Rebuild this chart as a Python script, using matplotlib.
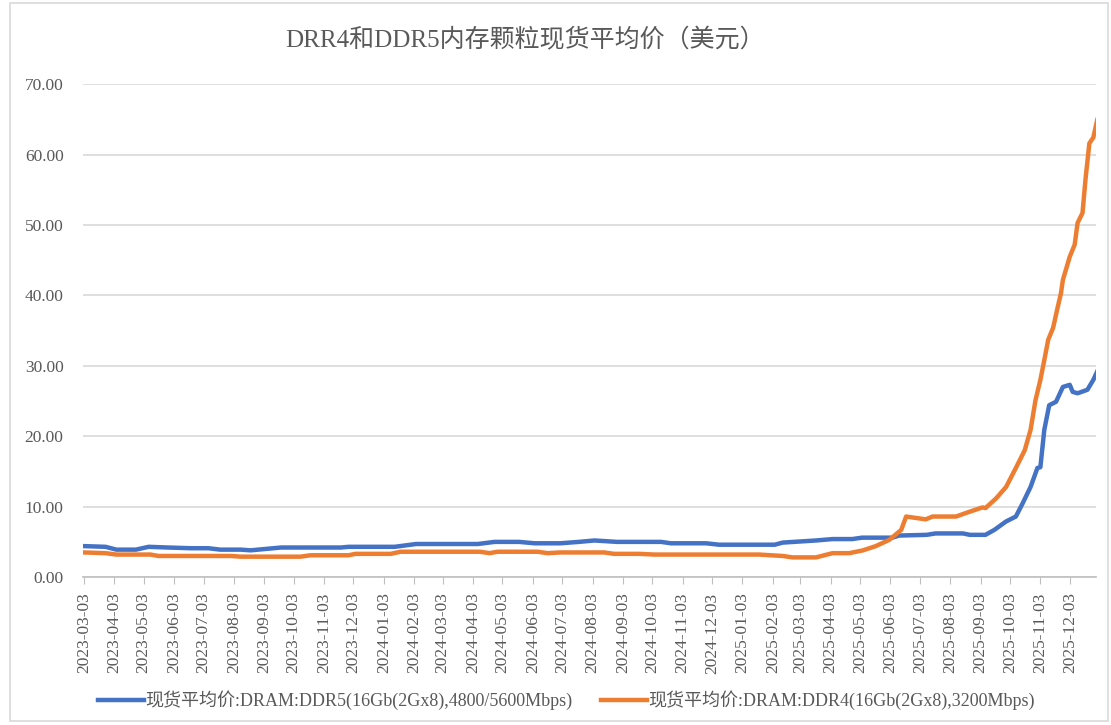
import pandas as pd
import matplotlib.pyplot as plt
import matplotlib.dates as mdates
from matplotlib.patches import Rectangle

plt.rcParams['font.family'] = ['Liberation Serif', 'Noto Sans CJK SC']

title = 'DRR4和DDR5内存颗粒现货平均价（美元）'
ddr5_label = '现货平均价:DRAM:DDR5(16Gb(2Gx8),4800/5600Mbps)'
ddr4_label = '现货平均价:DRAM:DDR4(16Gb(2Gx8),3200Mbps)'

ddr5_dates = ['2023-03-03', '2023-03-25', '2023-04-05', '2023-04-25', '2023-05-08',
              '2023-05-28', '2023-06-20', '2023-07-08', '2023-07-20', '2023-08-10',
              '2023-08-20', '2023-09-20', '2023-11-20', '2023-11-28', '2024-01-14',
              '2024-01-25', '2024-02-05', '2024-04-08', '2024-04-25', '2024-05-20',
              '2024-06-05', '2024-07-01', '2024-07-20', '2024-08-05', '2024-08-28',
              '2024-10-12', '2024-10-22', '2024-11-27', '2024-12-10', '2025-02-05',
              '2025-02-13', '2025-03-19', '2025-04-05', '2025-04-25', '2025-05-05',
              '2025-06-05', '2025-06-12', '2025-07-10', '2025-07-19', '2025-08-16',
              '2025-08-23', '2025-09-08', '2025-09-17', '2025-09-29', '2025-10-09',
              '2025-10-16', '2025-10-24', '2025-10-31', '2025-11-03', '2025-11-07',
              '2025-11-12', '2025-11-19', '2025-11-26', '2025-12-03', '2025-12-06',
              '2025-12-11', '2025-12-21', '2025-12-27', '2025-12-31']
ddr5_values = [4.4, 4.3, 3.9, 3.9, 4.3,
               4.2, 4.1, 4.1, 3.9, 3.9,
               3.8, 4.2, 4.2, 4.3, 4.3,
               4.5, 4.7, 4.7, 5.0, 5.0,
               4.8, 4.8, 5.0, 5.2, 5.0,
               5.0, 4.8, 4.8, 4.6, 4.6,
               4.9, 5.2, 5.4, 5.4, 5.6,
               5.6, 5.9, 6.0, 6.2, 6.2,
               6.0, 6.0, 6.7, 7.9, 8.6,
               10.5, 12.8, 15.5, 15.6, 20.9,
               24.4, 24.9, 27.0, 27.3, 26.3,
               26.1, 26.6, 28.0, 29.2]

ddr4_dates = ['2023-03-03', '2023-03-25', '2023-04-05', '2023-05-10', '2023-05-18',
              '2023-07-31', '2023-08-10', '2023-10-10', '2023-10-20', '2023-11-28',
              '2023-12-05', '2024-01-10', '2024-01-20', '2024-04-10', '2024-04-20',
              '2024-04-28', '2024-06-08', '2024-06-18', '2024-07-01', '2024-08-15',
              '2024-08-25', '2024-09-20', '2024-10-05', '2025-01-20', '2025-02-13',
              '2025-02-23', '2025-03-19', '2025-04-05', '2025-04-22', '2025-05-06',
              '2025-05-19', '2025-06-02', '2025-06-14', '2025-06-19', '2025-06-29',
              '2025-07-09', '2025-07-16', '2025-08-09', '2025-08-19', '2025-09-05',
              '2025-09-08', '2025-09-19', '2025-09-29', '2025-10-09', '2025-10-18',
              '2025-10-24', '2025-10-29', '2025-11-03', '2025-11-07', '2025-11-11',
              '2025-11-16', '2025-11-20', '2025-11-24', '2025-11-26', '2025-12-03',
              '2025-12-08', '2025-12-11', '2025-12-16', '2025-12-19', '2025-12-23',
              '2025-12-27', '2025-12-31']
ddr4_values = [3.5, 3.4, 3.2, 3.2, 3.0,
               3.0, 2.9, 2.9, 3.1, 3.1,
               3.3, 3.3, 3.6, 3.6, 3.4,
               3.6, 3.6, 3.4, 3.5, 3.5,
               3.3, 3.3, 3.2, 3.2, 3.0,
               2.8, 2.8, 3.4, 3.4, 3.8,
               4.4, 5.3, 6.7, 8.6, 8.4,
               8.2, 8.6, 8.6, 9.1, 9.9,
               9.8, 11.2, 12.8, 15.5, 18.0,
               20.9, 25.1, 28.0, 30.8, 33.7,
               35.4, 37.9, 40.3, 42.2, 45.5,
               47.2, 50.3, 51.7, 56.4, 61.6,
               62.4, 64.9]

fig = plt.figure(figsize=(11.11, 7.25), dpi=100)
fig.patches.append(Rectangle((0.009, 0.006), 0.988, 0.99, transform=fig.transFigure,
                             fill=False, edgecolor='#D9D9D9', linewidth=1.2))
ax = fig.add_axes([0.0747, 0.204, 0.912, 0.68])

ax.plot(pd.to_datetime(ddr5_dates), ddr5_values, color='#4472C4', linewidth=3.2,
        label=ddr5_label, solid_joinstyle='round')
ax.plot(pd.to_datetime(ddr4_dates), ddr4_values, color='#ED7D31', linewidth=3.2,
        label=ddr4_label, solid_joinstyle='round')

ax.set_ylim(0, 70)
ax.set_yticks(range(0, 71, 10))
ax.yaxis.set_major_formatter(plt.FuncFormatter(lambda v, p: f'{v:.2f}'))
ax.set_xlim(pd.Timestamp('2023-03-02'), pd.Timestamp('2025-12-30'))
ax.set_xticks(pd.date_range('2023-03-01', '2025-12-01', freq='MS') + pd.Timedelta(days=2))
ax.xaxis.set_major_formatter(mdates.DateFormatter('%Y-%m-%d'))

ax.grid(axis='y', color='#D9D9D9', linewidth=1.2)
ax.set_axisbelow(True)
for s in ['top', 'right', 'left']:
    ax.spines[s].set_visible(False)
ax.spines['bottom'].set_color('#BFBFBF')
ax.spines['bottom'].set_linewidth(1.2)
ax.tick_params(axis='y', length=0, pad=14, labelsize=12.5, labelcolor='#595959')
ax.tick_params(axis='x', length=5, color='#BFBFBF', pad=6, labelsize=12.5,
               labelcolor='#595959', labelrotation=90)

fig.text(0.473, 0.945, title, ha='center', va='center', fontsize=18, color='#595959')
fig.legend(loc='center', bbox_to_anchor=(0.51, 0.034), ncol=2, frameon=False,
           fontsize=13, handlelength=2.5, handletextpad=0.1, columnspacing=1.6,
           labelcolor='#595959')

fig.savefig('out.png', dpi=100)
